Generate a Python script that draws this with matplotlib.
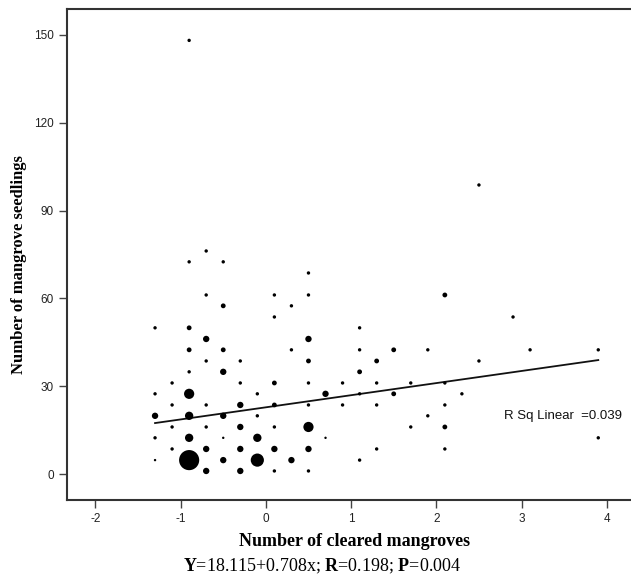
import numpy as np
import matplotlib
matplotlib.use("Agg")
import matplotlib.pyplot as plt

# bubble data: x = cleared mangroves, y = seedlings, n = number of overlapping cases
x_vals = [-1.3, -1.3, -1.3, -1.3, -1.3,
          -1.1, -1.1, -1.1, -1.1,
          -0.9, -0.9, -0.9, -0.9, -0.9, -0.9, -0.9, -0.9, -0.9,
          -0.7, -0.7, -0.7, -0.7, -0.7, -0.7, -0.7, -0.7,
          -0.5, -0.5, -0.5, -0.5, -0.5, -0.5, -0.5,
          -0.3, -0.3, -0.3, -0.3, -0.3, -0.3,
          -0.1, -0.1, -0.1, -0.1,
          0.1, 0.1, 0.1, 0.1, 0.1, 0.1, 0.1,
          0.3, 0.3, 0.3,
          0.5, 0.5, 0.5, 0.5, 0.5, 0.5, 0.5, 0.5, 0.5,
          0.7, 0.7,
          0.9, 0.9,
          1.1, 1.1, 1.1, 1.1, 1.1,
          1.3, 1.3, 1.3, 1.3,
          1.5, 1.5,
          1.7, 1.7,
          1.9, 1.9,
          2.1, 2.1, 2.1, 2.1, 2.1,
          2.3,
          2.5, 2.5,
          2.9,
          3.1,
          3.9, 3.9]
y_vals = [50.0, 27.5, 20.0, 12.5, 4.9,
          31.2, 23.7, 16.2, 8.7,
          148.0, 72.5, 50.0, 42.5, 35.0, 27.5, 20.0, 12.5, 4.9,
          76.2, 61.2, 46.2, 38.7, 23.7, 16.2, 8.7, 1.2,
          72.5, 57.5, 42.5, 35.0, 20.0, 12.5, 4.9,
          38.7, 31.2, 23.7, 16.2, 8.7, 1.2,
          27.5, 20.0, 12.5, 4.9,
          61.2, 53.7, 31.2, 23.7, 16.2, 8.7, 1.2,
          57.5, 42.5, 4.9,
          68.7, 61.2, 46.2, 38.7, 31.2, 23.7, 16.2, 8.7, 1.2,
          27.5, 12.5,
          31.2, 23.7,
          50.0, 42.5, 35.0, 27.5, 4.9,
          38.7, 31.2, 23.7, 8.7,
          42.5, 27.5,
          31.2, 16.2,
          42.5, 20.0,
          61.2, 31.2, 23.7, 16.2, 8.7,
          27.5,
          98.7, 38.7,
          53.7,
          42.5,
          42.5, 12.5]
n_vals = [2, 2, 7, 2, 1,
          2, 2, 2, 2,
          2, 2, 4, 4, 2, 18, 12, 12, 70,
          2, 2, 7, 2, 2, 2, 7, 7,
          2, 4, 4, 7, 7, 1, 7,
          2, 2, 7, 7, 7, 7,
          2, 2, 12, 30,
          2, 2, 4, 4, 2, 7, 2,
          2, 2, 7,
          2, 2, 7, 4, 2, 2, 18, 7, 2,
          7, 1,
          2, 2,
          2, 2, 4, 2, 2,
          4, 2, 2, 2,
          4, 4,
          2, 2,
          2, 2,
          4, 2, 2, 4, 2,
          2,
          2, 2,
          2,
          2,
          2, 2]

# linear fit line as drawn in the picture
fit_intercept = 22.9
fit_slope = 4.13

x_ticks = [-2, -1, 0, 1, 2, 3, 4]
y_ticks = [0, 30, 60, 90, 120, 150]

plt.rcParams['mathtext.fontset'] = 'custom'
plt.rcParams['mathtext.rm'] = 'Liberation Serif'
plt.rcParams['mathtext.bf'] = 'Liberation Serif:bold'
plt.rcParams['axes.unicode_minus'] = False

fig = plt.figure(figsize=(6.31, 5.79), dpi=100)
ax = fig.add_axes([67/631, 79/579, 564/631, 491/579])

xs = np.array(x_vals)
ax.scatter(xs, y_vals, s=np.array(n_vals) * 3.0, color='black', linewidths=0, zorder=3)

xl = np.array([xs.min(), xs.max()])
ax.plot(xl, fit_intercept + fit_slope * xl, color='#111111', lw=1.3, zorder=2)

ax.set_xlim(-2.333, 4.284)
ax.set_ylim(-8.7, 158.7)
ax.set_xticks(x_ticks)
ax.set_yticks(y_ticks)
ax.tick_params(direction='out', length=5.5, width=1, color='#444444',
               labelsize=8.5, labelcolor='#222222', pad=4)
for lab in ax.get_xticklabels() + ax.get_yticklabels():
    lab.set_family('Liberation Sans')

for side in ['left', 'bottom', 'top']:
    ax.spines[side].set_linewidth(1.5)
    ax.spines[side].set_color('#333333')
ax.spines['right'].set_visible(False)

ax.text(504/631, 1 - 415.7/579, 'R Sq Linear  =0.039', transform=fig.transFigure,
        fontsize=9.5, family='Liberation Sans', va='center', ha='left', color='#111111')

fig.text(19/631, 1 - 265/579, 'Number of mangrove seedlings', rotation=90,
         ha='center', va='center', fontsize=12, fontweight='bold',
         family='Liberation Serif')
fig.text(355/631, 1 - 541/579, 'Number of cleared mangroves', ha='center',
         va='center', fontsize=13, fontweight='bold', family='Liberation Serif')
fig.text(322/631, 1 - 566/579,
         r'$\mathbf{Y}$=18.115+0.708x; $\mathbf{R}$=0.198; $\mathbf{P}$=0.004',
         ha='center', va='center', fontsize=13, family='Liberation Serif')

fig.savefig('out.png', dpi=100)
